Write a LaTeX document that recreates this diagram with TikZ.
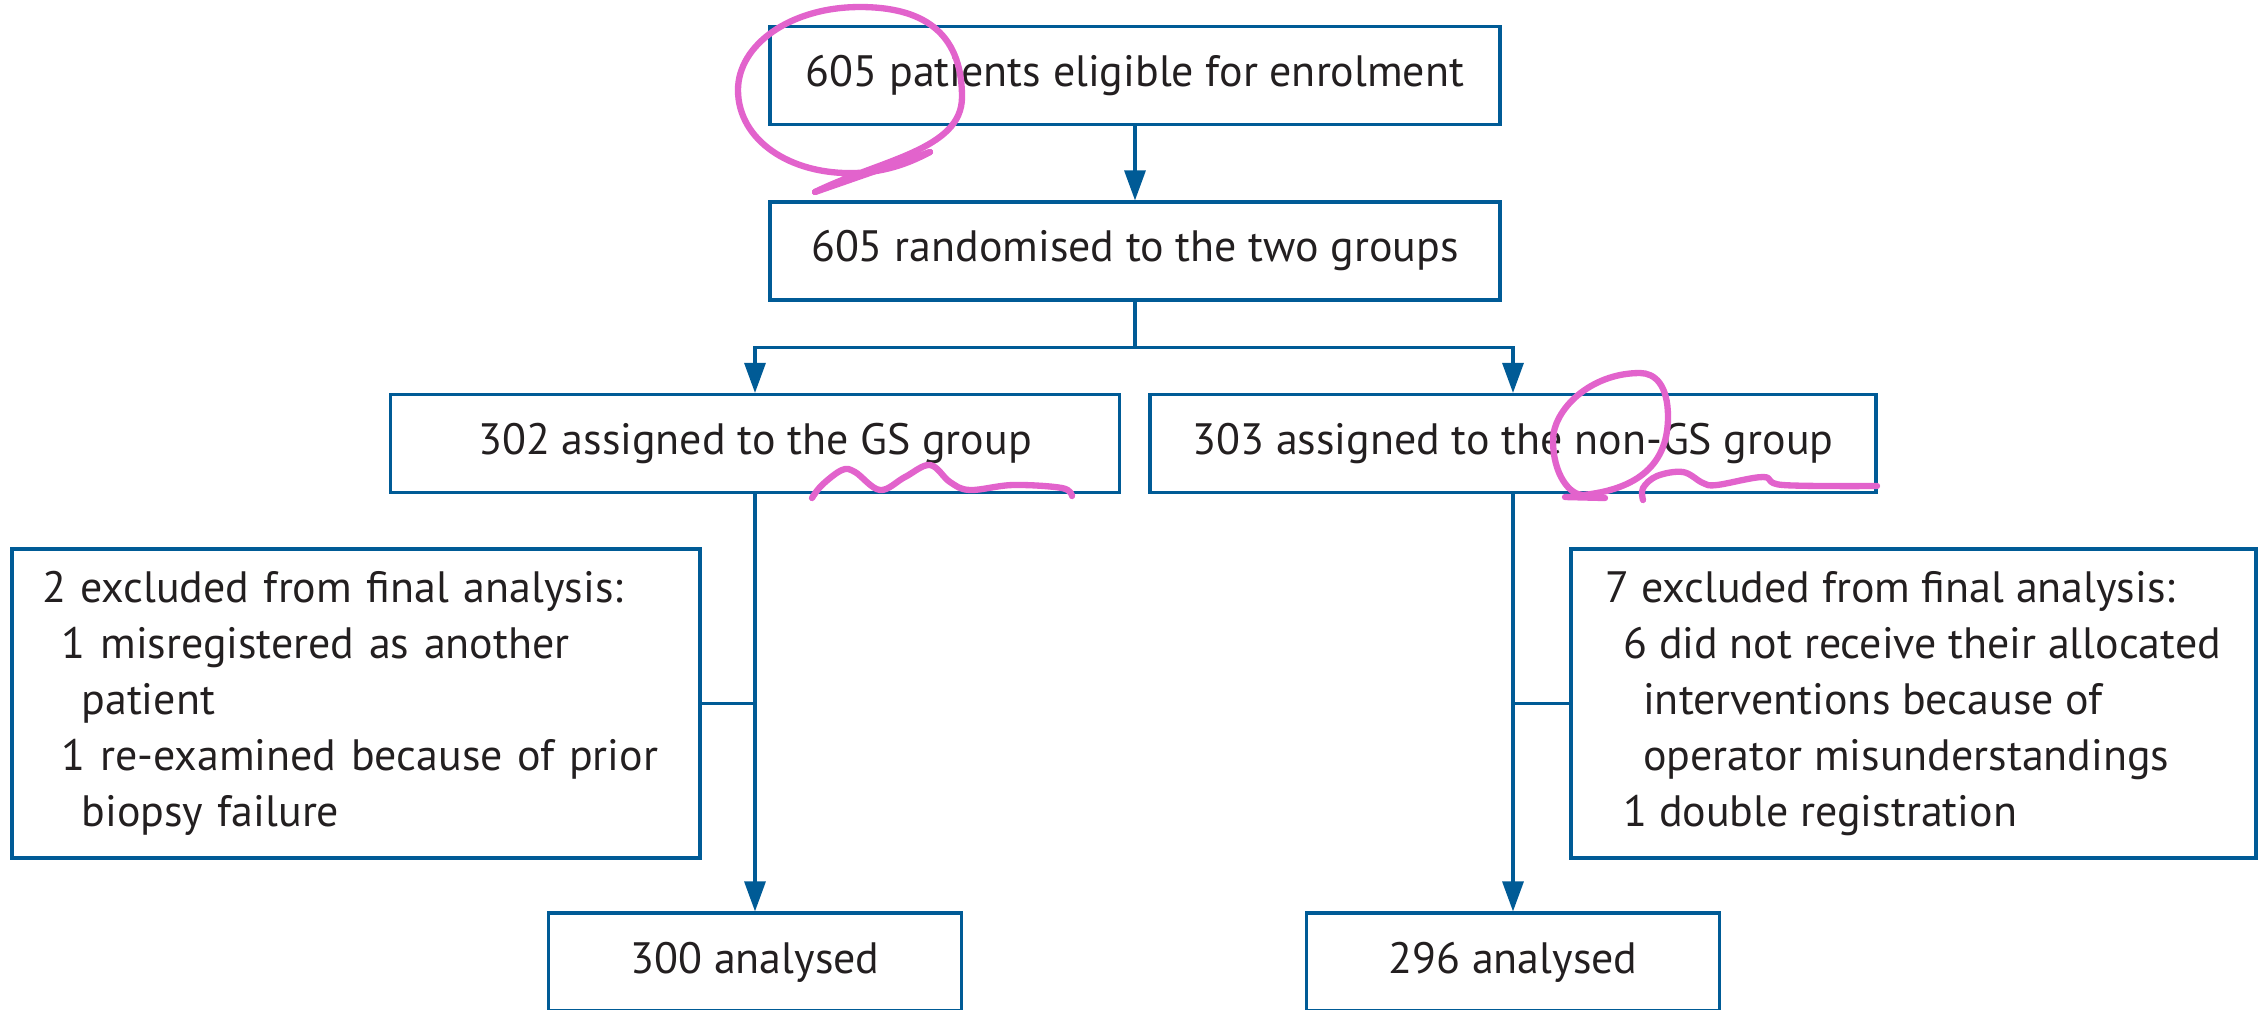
\documentclass[tikz,border=0pt]{standalone}
\usepackage{fontspec}
\setmainfont{PT Sans}
\usepackage{tikz}
\usetikzlibrary{
    arrows.meta,
    calc,
    positioning
}
\definecolor{flowblue}{HTML}{005B96}
\definecolor{inkpink}{HTML}{E263CC}
\definecolor{textdark}{HTML}{231F20}
\tikzset{
    stage/.style={draw=flowblue, line width=0.9pt, text=textdark, minimum height=0.98cm,
        inner sep=0pt, font=\fontsize{12.5}{15.9}\selectfont},
    exclbox/.style={stage, align=left, minimum height=3.09cm},
    flow/.style={draw=flowblue, line width=0.9pt, -{Triangle[length=0.3cm,width=0.21cm]}},
    link/.style={draw=flowblue, line width=0.9pt},
    scribble/.style={draw=inkpink, line width=1.8pt, line cap=round, line join=round}
}

\begin{document}
\begin{tikzpicture}
                                \clip (0, 0) rectangle (22.62, -10.09);
                                \node[stage, minimum width=7.30cm] (elig) at (11.35, -0.755) {605 patients eligible for enrolment};
                                \node[stage, minimum width=7.30cm] (rand) at (11.35, -2.51) {605 randomised to the two groups};
                                \node[stage, minimum width=7.29cm] (gs) at (7.55, -4.435) {302 assigned to the GS group};
                                \node[stage, minimum width=7.26cm] (ngs) at (15.13, -4.435) {303 assigned to the non-GS group};
                                \node[exclbox, inner xsep=0.30cm, text width=6.28cm] (exgs) at (3.56, -7.035) {2 excluded from final analysis:\\
                                    \hspace*{0.45em}1 misregistered as another\\
                                    \hspace*{0.9em}patient\\
                                    \hspace*{0.45em}1 re-examined because of prior\\
                                    \hspace*{0.9em}biopsy failure};
                                \node[exclbox, minimum width=6.85cm] (exngs) at (19.135, -7.035) {7 excluded from final analysis:\\
                                    \hspace*{0.4em}6 did not receive their allocated\\
                                    \hspace*{0.85em}interventions because of\\
                                    \hspace*{0.85em}operator misunderstandings\\
                                    \hspace*{0.4em}1 double registration};
                                \node[stage, minimum width=4.13cm] (angs) at (7.55, -9.62) {300 analysed};
                                \node[stage, minimum width=4.13cm] (anngs) at (15.13, -9.62) {296 analysed};
                                % connectors
                                \draw[flow] (elig) -- (rand);
                                \draw[link] (rand.south) -- ++(0, -0.46) coordinate (split);
                                \draw[flow] (split) -| (gs.north);
                                \draw[flow] (split) -| (ngs.north);
                                \draw[flow] (gs) -- (angs);
                                \draw[flow] (ngs) -- (anngs);
                                \draw[link] (exgs.east) -- (exgs.east -| gs.south);
                                \draw[link] (exngs.west) -- (exngs.west -| ngs.south);
                                % pink marks
                                \draw[scribble] (8.15, -1.92) .. controls (8.80, -1.60) and (9.62, -1.50) .. (9.62, -0.97)
                                    .. controls (9.62, -0.30) and (9.20, -0.07) .. (8.60, -0.07)
                                    .. controls (7.90, -0.07) and (7.38, -0.45) .. (7.38, -0.90)
                                    .. controls (7.38, -1.40) and (7.90, -1.75) .. (8.55, -1.73)
                                    .. controls (8.90, -1.72) and (9.15, -1.60) .. (9.30, -1.52);
                                \draw[scribble] (8.15, -1.92) -- (9.30, -1.52);
                                \draw[scribble] plot[smooth, tension=0.6] coordinates {(8.12, -4.98) (8.22, -4.85) (8.42, -4.70) (8.55, -4.72) (8.80, -4.90) (9.05, -4.77) (9.30, -4.65) (9.50, -4.82) (9.70, -4.90) (10.13, -4.85) (10.62, -4.88) (10.72, -4.96)};
                                \draw[scribble] (15.65, -4.97) -- (16.05, -4.98);
                                \draw[scribble] (15.83, -4.95) .. controls (16.30, -4.90) and (16.68, -4.70) .. (16.68, -4.17)
                                    .. controls (16.68, -3.85) and (16.55, -3.73) .. (16.40, -3.73)
                                    .. controls (15.90, -3.73) and (15.53, -4.10) .. (15.53, -4.40)
                                    .. controls (15.53, -4.75) and (15.70, -4.95) .. (15.83, -4.95);
                                \draw[scribble] plot[smooth, tension=0.6] coordinates {(16.43, -5.00) (16.43, -4.88) (16.57, -4.76) (16.83, -4.72) (17.03, -4.83) (17.17, -4.85) (17.63, -4.77) (17.83, -4.85) (18.77, -4.86)};
                            \end{tikzpicture}
\end{document}
